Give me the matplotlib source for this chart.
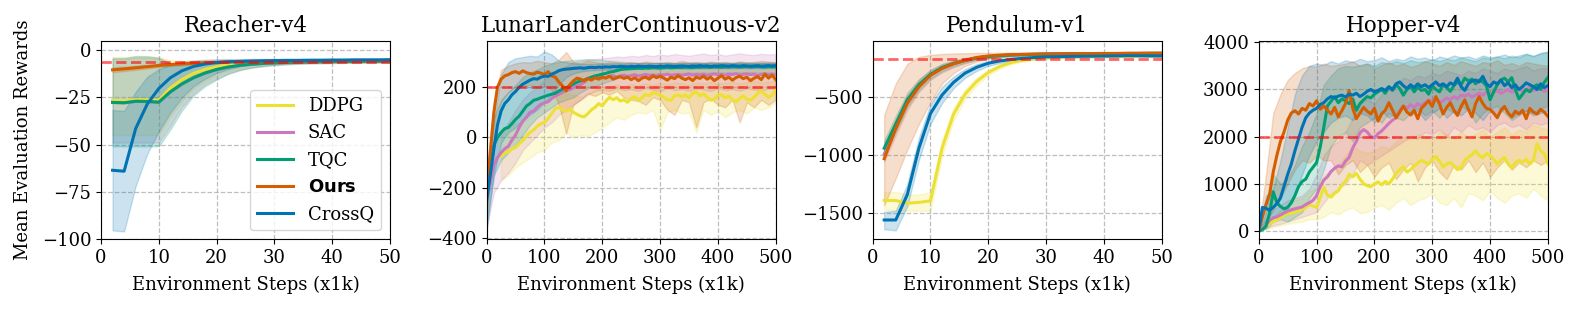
import numpy as np
import matplotlib
matplotlib.use('Agg')
import matplotlib.pyplot as plt

plt.rcParams['font.family'] = 'serif'
plt.rcParams['font.serif'] = ['DejaVu Serif']
plt.rcParams['font.size'] = 13
plt.rcParams['axes.unicode_minus'] = True

nan = np.nan

# ---------------- legend / styling ----------------
algos = ['DDPG', 'SAC', 'TQC', 'Ours', 'CrossQ']
legend_labels = ['DDPG', 'SAC', 'TQC', r'$\mathbf{Ours}$', 'CrossQ']
colors = ['#ece133', '#cc78bc', '#029e73', '#d55e00', '#0173b2']
titles = ['Reacher-v4', 'LunarLanderContinuous-v2', 'Pendulum-v1', 'Hopper-v4']
thresholds = [-6, 200, -165, 2000]

# ---------------- Reacher-v4 (x1k steps) ----------------
x_reacher = np.arange(2, 51, 2)
reacher_ddpg = [-26.6, -26.8, -26.2, -26.2, -26.5, -20.0, -15.5, -12.2, -10.1, -8.6, -7.6, -7.0, -6.6, -6.3, -6.1, -6.0, -5.9, -5.8, -5.8, -5.7, -5.7, -5.6, -5.6, -5.6, -5.5]
reacher_ddpg_lo = [-45, -45, -45, -45, -45, -35, -27, -20.5, -16.5, -13.5, -11.2, -9.7, -8.7, -8.0, -7.5, -7.2, -7.0, -6.8, -6.7, -6.6, -6.5, -6.5, -6.4, -6.4, -6.3]
reacher_ddpg_hi = [-3.5, -3.5, -3.0, -3.2, -3.5, -5.0, -5.5, -5.4, -5.2, -5.0, -4.9, -4.8, -4.8, -4.7, -4.7, -4.7, -4.7, -4.6, -4.6, -4.6, -4.6, -4.6, -4.6, -4.6, -4.5]
reacher_sac = [-27.7, -27.9, -27.1, -27.2, -27.6, -22.1, -17.9, -14.6, -12.1, -10.2, -8.9, -8.0, -7.4, -7.0, -6.7, -6.5, -6.3, -6.2, -6.1, -6.0, -5.9, -5.9, -5.8, -5.8, -5.7]
reacher_sac_lo = [-49, -49, -49, -49, -49, -40, -30, -23, -18, -15, -12.2, -10.3, -9.1, -8.3, -7.7, -7.3, -7.0, -6.8, -6.7, -6.6, -6.5, -6.5, -6.4, -6.4, -6.3]
reacher_sac_hi = [-4.5, -4.5, -3.8, -3.8, -4.3, -7.0, -7.0, -6.6, -6.1, -5.8, -5.5, -5.3, -5.2, -5.1, -5.0, -4.9, -4.9, -4.8, -4.8, -4.8, -4.7, -4.7, -4.7, -4.6, -4.6]
reacher_tqc = [-27.6, -27.8, -27.0, -27.1, -27.5, -22.0, -17.8, -14.5, -12.0, -10.1, -8.8, -7.9, -7.3, -6.9, -6.6, -6.4, -6.2, -6.1, -6.0, -5.9, -5.8, -5.8, -5.7, -5.7, -5.6]
reacher_tqc_lo = [-51, -51, -51, -51, -51, -42, -32, -24, -19, -15.5, -12.5, -10.5, -9.2, -8.4, -7.8, -7.4, -7.1, -6.9, -6.8, -6.7, -6.6, -6.5, -6.5, -6.4, -6.4]
reacher_tqc_hi = [-4.0, -4.0, -3.0, -3.0, -3.8, -6.5, -6.8, -6.5, -6.0, -5.7, -5.4, -5.2, -5.1, -5.0, -4.9, -4.9, -4.8, -4.8, -4.8, -4.7, -4.7, -4.7, -4.7, -4.6, -4.6]
reacher_ours = [-10.3, -9.8, -9.2, -8.6, -8.0, -7.5, -7.1, -6.8, -6.5, -6.3, -6.1, -6.0, -5.9, -5.8, -5.7, -5.7, -5.6, -5.6, -5.5, -5.5, -5.5, -5.4, -5.4, -5.4, -5.3]
reacher_ours_lo = [-11.5, -11.0, -10.3, -9.6, -8.9, -8.3, -7.8, -7.4, -7.1, -6.8, -6.6, -6.5, -6.4, -6.3, -6.2, -6.1, -6.1, -6.0, -6.0, -5.9, -5.9, -5.9, -5.8, -5.8, -5.8]
reacher_ours_hi = [-9.0, -8.6, -8.1, -7.6, -7.1, -6.7, -6.4, -6.2, -6.0, -5.8, -5.6, -5.5, -5.4, -5.3, -5.3, -5.2, -5.2, -5.1, -5.1, -5.0, -5.0, -5.0, -4.9, -4.9, -4.9]
reacher_crossq = [-63.7, -64.2, -41.5, -28.5, -20.2, -14.5, -10.8, -8.5, -7.2, -6.4, -6.0, -5.8, -5.6, -5.5, -5.4, -5.3, -5.3, -5.2, -5.2, -5.1, -5.1, -5.0, -5.0, -5.0, -4.9]
reacher_crossq_lo = [-95.7, -96.2, -72, -55, -43, -33, -25, -19, -15, -12, -10, -8.5, -7.5, -7.0, -6.5, -6.2, -6.0, -5.9, -5.8, -5.7, -5.6, -5.6, -5.5, -5.5, -5.4]
reacher_crossq_hi = [-31.6, -32.2, -22, -14, -10, -7.5, -6.0, -5.3, -4.9, -4.7, -4.6, -4.6, -4.5, -4.5, -4.5, -4.4, -4.4, -4.4, -4.4, -4.4, -4.4, -4.3, -4.3, -4.3, -4.3]

# ---------------- LunarLanderContinuous-v2 ----------------
x_lunar = np.arange(0, 501, 6.25)      # mean curves
xb_lunar = np.arange(0, 501, 12.5)     # confidence bands
lunar_ddpg = [nan, nan, nan, nan, -75, -60, -58, -45, -40, -25,
              -12, 5, 20, 30, 45, 55, 60, 75, 95, 115,
              120, 110, 105, 112, 100, 92, 85, 82, 95, 110,
              120, 135, 125, 145, 160, 150, 158, 145, 150, 140,
              155, 162, 148, 158, 172, 165, 178, 175, 168, 160,
              150, 148, 165, 170, 162, 170, 158, 175, 182, 165,
              175, 160, 148, 152, 168, 170, 158, 165, 150, 142,
              155, 165, 152, 148, 160, 175, 185, 172, 160, 168,
              190]
lunar_sac = [-250, -180, -110, -80, -60, -45, -35, -10, 10, 40,
             65, 80, 100, 105, 120, 132, 138, 142, 155, 165,
             172, 180, 188, 190, 198, 205, 210, 220, 232, 238,
             240, 236, 242, 238, 244, 246, 240, 245, 248, 243,
             246, 250, 244, 247, 251, 246, 249, 245, 250, 248,
             252, 246, 249, 251, 247, 250, 253, 248, 251, 249,
             252, 247, 250, 253, 249, 251, 248, 252, 250, 254,
             249, 251, 253, 250, 252, 248, 251, 253, 250, 252,
             249]
lunar_tqc = [-235, -120, -30, 0, 20, 35, 40, 55, 72, 85,
             105, 125, 135, 148, 152, 158, 163, 168, 172, 176,
             185, 192, 198, 205, 212, 220, 225, 228, 235, 240,
             245, 248, 252, 255, 260, 262, 266, 270, 272, 273,
             274, 275, 276, 275, 277, 276, 278, 277, 276, 278,
             279, 277, 278, 279, 278, 280, 279, 278, 280, 279,
             281, 280, 279, 281, 280, 279, 281, 280, 282, 281,
             280, 281, 282, 280, 281, 282, 281, 280, 282, 281,
             282]
lunar_ours = [-240, -60, 100, 200, 232, 245, 250, 258, 262, 255,
              265, 258, 254, 252, 260, 256, 250, 262, 245, 240,
              220, 205, 185, 210, 225, 236, 232, 225, 235, 228,
              238, 232, 240, 236, 244, 232, 238, 242, 235, 240,
              230, 238, 226, 236, 240, 232, 245, 238, 244, 236,
              228, 240, 234, 246, 236, 230, 238, 226, 240, 235,
              244, 232, 240, 226, 236, 246, 232, 240, 228, 238,
              244, 234, 240, 226, 236, 242, 230, 252, 236, 248,
              230]
lunar_crossq = [-250, -150, -45, 50, 105, 135, 150, 170, 183, 200,
                212, 220, 228, 234, 232, 240, 244, 243, 252, 258,
                266, 270, 272, 273, 275, 276, 277, 275, 278, 279,
                278, 280, 279, 281, 280, 282, 281, 283, 282, 281,
                283, 282, 284, 283, 282, 284, 283, 282, 284, 283,
                285, 284, 283, 284, 285, 284, 283, 285, 284, 286,
                284, 285, 283, 285, 284, 286, 285, 284, 286, 285,
                284, 286, 285, 284, 285, 286, 284, 285, 286, 285,
                286]
lunar_ddpg_lo = [nan, nan, -170, -150, -120, -100, -80, -60, -50, -20,
                 -10, 20, 0, 10, 5, 20, 40, 60, 80, 70,
                 90, 100, 95, 110, 30, 100, 110, 95, 100, 20,
                 110, 90, 105, 80, 100, 110, 95, 120, 110, 120,
                 140]
lunar_ddpg_hi = [nan, nan, 10, 40, 55, 60, 80, 100, 130, 170,
                 180, 175, 170, 160, 175, 190, 200, 205, 210, 205,
                 212, 208, 215, 210, 218, 212, 220, 215, 210, 218,
                 215, 220, 212, 218, 222, 215, 220, 225, 218, 222,
                 225]
lunar_sac_lo = [-360, -220, -170, -140, -100, -50, -20, 10, 40, 60,
                90, 110, 130, 150, 170, 185, 190, 185, 195, 188,
                192, 185, 196, 190, 184, 195, 188, 192, 186, 194,
                190, 185, 196, 188, 192, 186, 195, 190, 188, 194,
                192]
lunar_sac_hi = [-140, -20, 20, 60, 110, 150, 180, 200, 230, 250,
                270, 285, 300, 305, 310, 312, 315, 318, 322, 320,
                325, 322, 328, 324, 330, 326, 332, 328, 325, 330,
                334, 328, 332, 326, 330, 335, 330, 328, 333, 330,
                332]
lunar_tqc_lo = [-340, -150, -90, -60, -30, 10, 50, 80, 100, 120,
                140, 150, 160, 180, 195, 205, 215, 225, 235, 245,
                250, 252, 254, 253, 255, 256, 255, 257, 256, 258,
                257, 258, 259, 258, 260, 259, 258, 260, 259, 260,
                260]
lunar_tqc_hi = [-130, 80, 150, 180, 210, 240, 260, 270, 285, 295,
                300, 305, 308, 310, 312, 310, 308, 305, 303, 300,
                298, 297, 298, 296, 297, 298, 296, 297, 298, 297,
                298, 297, 296, 298, 297, 298, 297, 296, 298, 297,
                298]
lunar_ours_lo = [-300, -50, 140, 180, 200, 205, 210, 200, 205, 190,
                 130, 15, 130, 150, 175, 165, 180, 170, 185, 160,
                 150, 145, 130, 160, 150, 110, 90, 150, 140, 40,
                 140, 155, 130, 120, 150, 60, 140, 120, 150, 130,
                 150]
lunar_ours_hi = [-150, 150, 270, 285, 295, 300, 298, 305, 300, 295,
                 310, 340, 300, 295, 305, 300, 295, 300, 298, 296,
                 300, 295, 302, 298, 296, 300, 297, 305, 298, 300,
                 296, 302, 298, 300, 296, 303, 299, 300, 305, 302,
                 300]
lunar_crossq_lo = [-370, -150, -20, 20, 40, 70, 90, 110, 140, 170,
                   210, 240, 255, 262, 266, 268, 270, 270, 271, 272,
                   272, 273, 272, 274, 273, 274, 275, 274, 273, 275,
                   274, 275, 276, 275, 274, 276, 275, 276, 275, 276,
                   275]
lunar_crossq_hi = [-130, 60, 250, 300, 315, 320, 325, 322, 342, 330,
                   305, 300, 295, 293, 292, 293, 294, 294, 295, 294,
                   295, 296, 295, 296, 297, 296, 295, 297, 296, 297,
                   296, 297, 298, 297, 296, 298, 297, 298, 297, 298,
                   297]

# ---------------- Pendulum-v1 ----------------
x_pendulum = np.arange(2, 51, 2)
pend_ddpg = [-1390, -1392, -1415, -1408, -1395, -940, -645, -472, -362, -285, -232, -198, -178, -166, -158, -153, -150, -148, -147, -146, -145, -145, -144, -144, -143]
pend_ddpg_lo = [-1470, -1480, -1480, -1480, -1480, -1010, -700, -515, -395, -310, -250, -212, -190, -176, -167, -161, -158, -156, -154, -153, -152, -152, -151, -151, -150]
pend_ddpg_hi = [-1320, -1320, -1340, -1340, -1320, -870, -590, -430, -330, -260, -215, -185, -167, -157, -150, -146, -143, -141, -140, -139, -139, -138, -138, -137, -137]
pend_sac = [-990, -760, -545, -400, -305, -248, -210, -182, -160, -147, -139, -133, -130, -128, -126, -125, -124, -123, -122, -122, -121, -121, -120, -120, -120]
pend_sac_lo = [-1060, -830, -610, -455, -350, -285, -240, -205, -178, -162, -152, -145, -140, -137, -135, -133, -132, -131, -130, -129, -129, -128, -128, -127, -127]
pend_sac_hi = [-920, -690, -480, -345, -260, -212, -180, -159, -142, -132, -126, -121, -120, -119, -117, -117, -116, -115, -114, -115, -113, -114, -112, -113, -113]
pend_tqc = [-940, -730, -520, -390, -300, -242, -206, -180, -160, -148, -140, -134, -130, -128, -126, -125, -124, -123, -122, -122, -121, -120, -120, -119, -118]
pend_tqc_lo = [-1010, -800, -585, -440, -340, -275, -232, -200, -176, -161, -150, -143, -138, -135, -133, -131, -130, -129, -128, -127, -126, -126, -125, -125, -124]
pend_tqc_hi = [-870, -660, -460, -345, -265, -213, -183, -162, -146, -137, -131, -126, -123, -121, -120, -119, -118, -117, -117, -116, -116, -115, -115, -114, -113]
pend_ours = [-1030, -770, -550, -410, -310, -250, -210, -180, -155, -142, -135, -130, -128, -126, -124, -123, -122, -121, -121, -120, -120, -119, -119, -118, -118]
pend_ours_lo = [-1430, -1200, -950, -730, -540, -380, -290, -228, -192, -166, -152, -144, -139, -136, -134, -132, -131, -130, -129, -128, -128, -127, -127, -126, -126]
pend_ours_hi = [-650, -380, -210, -150, -132, -125, -120, -118, -116, -115, -114, -113, -113, -112, -112, -111, -111, -110, -110, -110, -110, -109, -109, -109, -109]
pend_crossq = [-1560, -1560, -1340, -940, -640, -480, -370, -290, -240, -205, -185, -172, -162, -155, -150, -148, -146, -145, -144, -143, -142, -140, -140, -141, -142]
pend_crossq_lo = [-1640, -1650, -1440, -1040, -730, -550, -420, -330, -270, -228, -203, -187, -175, -167, -161, -158, -156, -155, -154, -153, -152, -150, -150, -151, -152]
pend_crossq_hi = [-1490, -1480, -1250, -850, -560, -410, -320, -255, -212, -184, -168, -158, -150, -144, -140, -138, -137, -136, -135, -134, -133, -131, -131, -132, -133]

# ---------------- Hopper-v4 ----------------
x_hopper = np.arange(0, 501, 6.25)
xb_hopper = np.arange(0, 501, 12.5)
hop_ddpg = [0, 60, 110, 160, 200, 240, 280, 330, 380, 370,
            390, 420, 450, 500, 560, 530, 500, 700, 930, 760,
            720, 800, 850, 980, 1050, 1200, 1150, 1220, 1100, 1000,
            960, 940, 1000, 1040, 980, 1050, 1000, 1100, 1220, 1300,
            1360, 1250, 1300, 1380, 1440, 1500, 1460, 1420, 1520, 1580,
            1480, 1360, 1420, 1450, 1380, 1300, 1350, 1500, 1560, 1620,
            1700, 1600, 1550, 1640, 1600, 1520, 1420, 1500, 1560, 1420,
            1340, 1450, 1500, 1460, 1520, 1420, 1500, 1850, 1700, 1640,
            1430]
hop_sac = [0, 50, 120, 230, 280, 300, 340, 380, 420, 450,
           470, 490, 510, 560, 600, 650, 750, 940, 1080, 1150,
           1260, 1330, 1380, 1360, 1480, 1560, 1760, 1900, 2080, 2150,
           2100, 2000, 1980, 2060, 2120, 2200, 2280, 2350, 2400, 2550,
           2640, 2600, 2680, 2620, 2700, 2650, 2720, 2780, 2740, 2800,
           2720, 2760, 2820, 2780, 2850, 2800, 2880, 2860, 2900, 2840,
           2880, 2920, 2880, 2950, 2900, 2940, 2980, 2920, 2960, 3000,
           2940, 2980, 3020, 2960, 3000, 3040, 2980, 3000, 3020, 2960,
           3000]
hop_tqc = [0, 30, 100, 380, 830, 600, 520, 470, 500, 600,
           750, 940, 1050, 1100, 1250, 1350, 1450, 1780, 2200, 2650,
           2750, 2850, 2720, 2800, 2760, 2700, 2800, 2560, 2700, 2780,
           2850, 2820, 2900, 2950, 3000, 2920, 3050, 2980, 3100, 3020,
           2880, 3000, 3060, 2950, 3050, 2980, 3000, 2900, 3080, 3000,
           2950, 3100, 3040, 2960, 3080, 3160, 3100, 3240, 3180, 3220,
           3120, 3200, 3160, 3080, 2780, 2950, 3100, 3200, 3240, 3160,
           3250, 3000, 2800, 2900, 3000, 2950, 3050, 3100, 3000, 3150,
           3250]
hop_ours = [0, 300, 560, 780, 1250, 1600, 1900, 2100, 2350, 2500,
            2550, 2480, 2600, 2560, 2700, 2650, 2760, 2580, 2650, 2560,
            2480, 2620, 2420, 2550, 2700, 2980, 2600, 2380, 2500, 2620,
            2540, 2480, 2600, 2330, 2480, 2560, 2720, 2560, 2400, 2520,
            2650, 2520, 2460, 2560, 2380, 2600, 2680, 2760, 2640, 2850,
            2700, 2480, 2620, 2720, 2560, 2450, 2640, 2780, 2580, 2420,
            2700, 2850, 2700, 2600, 2580, 2500, 2400, 2560, 2640, 2500,
            2420, 2540, 2480, 2560, 2380, 2600, 2520, 2480, 2580, 2520,
            2430]
hop_crossq = [0, 500, 480, 440, 500, 580, 700, 950, 1200, 1420,
              1700, 1950, 2200, 2400, 2500, 2560, 2600, 2680, 2720, 2800,
              2850, 2820, 2860, 2880, 2840, 2900, 2880, 2920, 2850, 2900,
              2960, 3000, 2950, 2980, 3020, 2980, 3060, 3000, 3120, 3160,
              3080, 3020, 3100, 3040, 3120, 3060, 3100, 3040, 3100, 3160,
              3080, 3120, 3060, 3140, 3100, 3240, 3060, 2980, 3120, 3180,
              3200, 3160, 3280, 3120, 3060, 3160, 3120, 3200, 3080, 3140,
              3040, 3100, 3000, 3060, 3140, 3100, 3060, 3000, 3120, 3040,
              3080]
hop_ddpg_lo = [0, 40, 80, 120, 150, 180, 200, 250, 250, 300,
               400, 350, 450, 500, 380, 400, 500, 550, 450, 600,
               700, 550, 650, 700, 800, 600, 550, 700, 500, 800,
               750, 650, 850, 700, 600, 750, 800, 700, 900, 750,
               650]
hop_ddpg_hi = [0, 200, 300, 450, 550, 650, 700, 850, 900, 1200,
               1300, 1400, 1600, 1800, 1700, 1650, 1700, 1800, 1750, 1900,
               2000, 1950, 2050, 2000, 1900, 2100, 2050, 1950, 2100, 2000,
               2050, 2150, 2000, 2100, 2200, 2050, 2150, 2100, 2250, 2200,
               2150]
hop_sac_lo = [0, 50, 120, 150, 200, 250, 300, 350, 400, 600,
              800, 900, 1000, 1200, 1500, 1400, 1500, 1600, 1700, 1800,
              1900, 2000, 1950, 2100, 2050, 2150, 2000, 2200, 2100, 2250,
              2150, 2200, 2100, 2250, 2300, 2200, 2250, 2150, 2300, 2250,
              2300]
hop_sac_hi = [0, 250, 450, 550, 650, 700, 750, 900, 1200, 1600,
              1800, 1900, 2100, 2400, 2700, 2800, 2700, 2900, 3000, 3100,
              3250, 3200, 3300, 3250, 3350, 3300, 3400, 3350, 3300, 3400,
              3350, 3450, 3400, 3350, 3450, 3400, 3450, 3500, 3400, 3450,
              3450]
hop_tqc_lo = [0, 50, 200, 250, 200, 300, 400, 700, 900, 1300,
              1800, 2000, 2100, 1900, 2200, 2300, 2400, 2300, 2500, 2400,
              2350, 2500, 2600, 2450, 2550, 2400, 2600, 2500, 2650, 2550,
              2300, 2500, 2600, 2650, 2500, 2350, 2450, 2550, 2500, 2600,
              2650]
hop_tqc_hi = [0, 400, 1200, 1000, 1100, 1400, 1800, 2100, 2500, 3100,
              3300, 3450, 3500, 3480, 3520, 3550, 3500, 3580, 3550, 3600,
              3560, 3620, 3580, 3600, 3640, 3600, 3650, 3620, 3680, 3640,
              3600, 3680, 3650, 3700, 3660, 3720, 3680, 3750, 3720, 3760,
              3800]
hop_ours_lo = [0, 200, 450, 700, 1000, 1300, 1500, 1450, 1600, 1500,
               1500, 1200, 1400, 1500, 1250, 1400, 1150, 1350, 1450, 1100,
               1300, 1450, 1050, 1350, 1500, 1250, 1100, 1400, 1300, 1500,
               1250, 1450, 1150, 1350, 1500, 1300, 1450, 1350, 1500, 1400,
               1500]
hop_ours_hi = [0, 1200, 2500, 2900, 3200, 3350, 3450, 3500, 3480, 3550,
               3500, 3520, 3550, 3600, 3500, 3550, 3450, 3520, 3580, 3500,
               3550, 3480, 3520, 3600, 3550, 3500, 3580, 3520, 3600, 3550,
               3500, 3580, 3550, 3620, 3520, 3560, 3500, 3580, 3550, 3520,
               3500]
hop_crossq_lo = [0, 250, 200, 300, 500, 800, 1200, 1600, 1900, 2100,
                 2300, 2400, 2450, 2350, 2500, 2450, 2300, 2550, 2400, 2500,
                 2600, 2450, 2550, 2350, 2500, 2600, 2400, 2550, 2450, 2600,
                 2500, 2350, 2550, 2450, 2600, 2400, 2500, 2550, 2450, 2500,
                 2550]
hop_crossq_hi = [0, 750, 900, 1500, 2200, 2900, 3300, 3500, 3550, 3520,
                 3600, 3550, 3620, 3580, 3650, 3600, 3620, 3680, 3600, 3650,
                 3620, 3700, 3650, 3680, 3620, 3700, 3660, 3720, 3680, 3700,
                 3650, 3720, 3680, 3700, 3740, 3680, 3720, 3760, 3700, 3780,
                 3800]

# ---------------- assemble panels ----------------
panels = [
    dict(x=x_reacher, xb=x_reacher,
         mean=[reacher_ddpg, reacher_sac, reacher_tqc, reacher_ours, reacher_crossq],
         lo=[reacher_ddpg_lo, reacher_sac_lo, reacher_tqc_lo, reacher_ours_lo, reacher_crossq_lo],
         hi=[reacher_ddpg_hi, reacher_sac_hi, reacher_tqc_hi, reacher_ours_hi, reacher_crossq_hi],
         xlim=(0, 50), ylim=(-100.4, 5.2), xticks=[0, 10, 20, 30, 40, 50],
         yticks=[-100, -75, -50, -25, 0]),
    dict(x=x_lunar, xb=xb_lunar,
         mean=[lunar_ddpg, lunar_sac, lunar_tqc, lunar_ours, lunar_crossq],
         lo=[lunar_ddpg_lo, lunar_sac_lo, lunar_tqc_lo, lunar_ours_lo, lunar_crossq_lo],
         hi=[lunar_ddpg_hi, lunar_sac_hi, lunar_tqc_hi, lunar_ours_hi, lunar_crossq_hi],
         xlim=(0, 500), ylim=(-405, 385), xticks=[0, 100, 200, 300, 400, 500],
         yticks=[-400, -200, 0, 200]),
    dict(x=x_pendulum, xb=x_pendulum,
         mean=[pend_ddpg, pend_sac, pend_tqc, pend_ours, pend_crossq],
         lo=[pend_ddpg_lo, pend_sac_lo, pend_tqc_lo, pend_ours_lo, pend_crossq_lo],
         hi=[pend_ddpg_hi, pend_sac_hi, pend_tqc_hi, pend_ours_hi, pend_crossq_hi],
         xlim=(0, 50), ylim=(-1727, -10), xticks=[0, 10, 20, 30, 40, 50],
         yticks=[-1500, -1000, -500]),
    dict(x=x_hopper, xb=xb_hopper,
         mean=[hop_ddpg, hop_sac, hop_tqc, hop_ours, hop_crossq],
         lo=[hop_ddpg_lo, hop_sac_lo, hop_tqc_lo, hop_ours_lo, hop_crossq_lo],
         hi=[hop_ddpg_hi, hop_sac_hi, hop_tqc_hi, hop_ours_hi, hop_crossq_hi],
         xlim=(0, 500), ylim=(-176, 4034), xticks=[0, 100, 200, 300, 400, 500],
         yticks=[0, 1000, 2000, 3000, 4000]),
]

# sanity check on lengths
for p_i, p in enumerate(panels):
    for a_i in range(5):
        if len(p['mean'][a_i]) != len(p['x']) or len(p['lo'][a_i]) != len(p['xb']) or len(p['hi'][a_i]) != len(p['xb']):
            raise ValueError('length mismatch panel %d algo %s' % (p_i, algos[a_i]))

fig = plt.figure(figsize=(15.78, 3.09), dpi=100)
lefts = [0.0640, 0.3084, 0.5530, 0.7977]
width, bottom, height = 0.1832, 0.2256, 0.6427

for k, p in enumerate(panels):
    ax = fig.add_axes([lefts[k], bottom, width, height])
    ax.set_axisbelow(True)
    ax.grid(True, linestyle='--', color='#b0b0b0', alpha=0.8, linewidth=0.9)
    for a_i in range(5):
        c = colors[a_i]
        ax.fill_between(p['xb'], np.array(p['lo'][a_i], dtype=float),
                        np.array(p['hi'][a_i], dtype=float),
                        color=c, alpha=0.2, linewidth=1.0)
        ax.plot(p['x'], np.array(p['mean'][a_i], dtype=float), color=c,
                linewidth=2.2, label=legend_labels[a_i])
    ax.axhline(thresholds[k], color='red', linestyle='--', linewidth=2,
               alpha=0.6, zorder=5)
    ax.set_xlim(*p['xlim'])
    ax.set_ylim(*p['ylim'])
    ax.set_xticks(p['xticks'])
    ax.set_yticks(p['yticks'])
    ax.tick_params(labelsize=13)
    ax.set_title(titles[k], fontsize=15.5)
    ax.set_xlabel('Environment Steps (x1k)', fontsize=13, labelpad=6)
    if k == 0:
        ax.set_ylabel('Mean Evaluation Rewards', fontsize=13, labelpad=7)
        ax.legend(loc='lower right', fontsize=13, handlelength=2.0)

fig.savefig('out.png', dpi=100)
